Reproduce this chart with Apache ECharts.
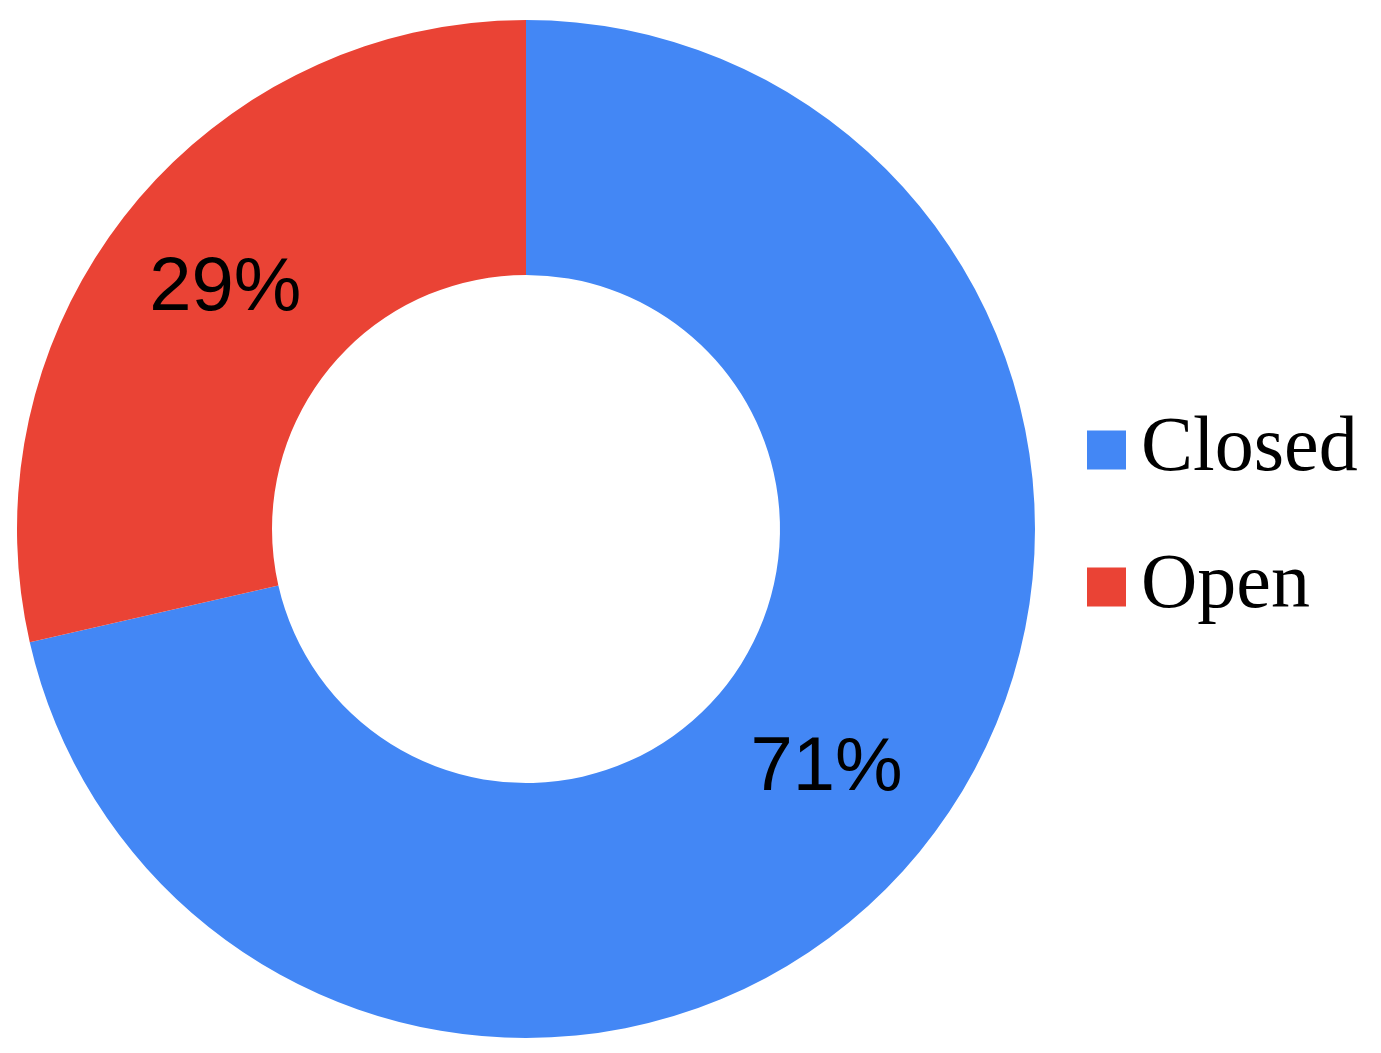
<!DOCTYPE html>
<html lang="en">
  <head>
    <meta charset="UTF-8" />
    <script src="https://cdn.jsdelivr.net/npm/echarts@6/dist/echarts.min.js"></script>
    <title>Closed vs Open</title>
    <style>
      html, body { margin: 0; padding: 0; background: #fff; }
    </style>
    <script>
      // categories and values
      const categories = ["Closed", "Open"];
      const values = [5, 2];
      const colors = ["#4387F5", "#EA4335"];

      window.onload = function () {
        const pieData = categories.map((name, i) => ({
          name: name,
          value: values[i],
          itemStyle: { color: colors[i] },
        }));
        var myChart = echarts.init(document.getElementById("main"));
        myChart.setOption({
          animation: false,
          legend: {
            orient: "vertical",
            left: 1087,
            top: 406,
            padding: 0,
            itemWidth: 39,
            itemHeight: 39,
            itemGap: 49,
            icon: "rect",
            textStyle: {
              fontFamily: "Liberation Serif, Times New Roman, serif",
              fontSize: 78,
              lineHeight: 80,
              color: "#000",
              padding: [8, 0, 0, 10],
            },
            data: categories,
          },
          series: [
            {
              type: "pie",
              center: [526, 529],
              radius: [254, 509],
              startAngle: 90,
              clockwise: true,
              avoidLabelOverlap: false,
              label: {
                show: true,
                position: "inside",
                color: "#000",
                fontFamily: "Liberation Sans, Arial, sans-serif",
                fontSize: 76,
                padding: [10, 0, 0, 0],
                formatter: (p) => Math.round(p.percent) + "%",
              },
              labelLine: { show: false },
              emphasis: { scale: false },
              data: pieData,
            },
          ],
        });
      };
    </script>
  </head>
  <body>
    <div id="main" style="width: 1381px; height: 1053px"></div>
  </body>
</html>
